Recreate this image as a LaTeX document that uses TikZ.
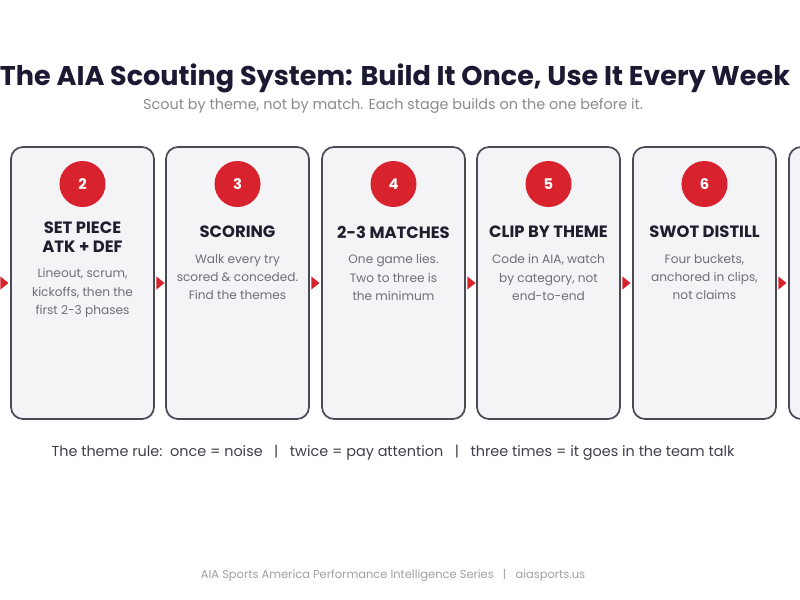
\documentclass[tikz,border=0pt]{standalone}
\usepackage{fontspec}
\setmainfont{Poppins}
\usetikzlibrary{calc}
\definecolor{titlecol}{HTML}{1C1A33}
\definecolor{headcol}{HTML}{1E1E2C}
\definecolor{bodycol}{HTML}{6E6E76}
\definecolor{subcol}{HTML}{8A8A92}
\definecolor{footcol}{HTML}{A0A0A6}
\definecolor{boxfill}{HTML}{F4F4F7}
\definecolor{boxline}{HTML}{4A4A55}
\definecolor{aiared}{HTML}{D8232F}
\tikzset{
  stagebox/.style={draw=boxline, line width=1.3pt, fill=boxfill, rounded corners=9pt,
    minimum width=107.25pt, minimum height=204pt, inner sep=0pt},
  numcirc/.style={circle, fill=aiared, minimum size=34.5pt, inner sep=0pt,
    text=white, font=\fontsize{11}{13}\selectfont\bfseries},
  headtxt/.style={text=headcol, font=\fontsize{12.3}{13.8}\selectfont\bfseries, align=center, anchor=center},
  bodytxt/.style={text=bodycol, font=\fontsize{9.1}{13.6}\selectfont, align=center, anchor=north},
  flowtip/.style={fill=aiared}
}
\begin{document}
\begin{tikzpicture}[x=0.75pt,y=-0.75pt]
\clip (0,0) rectangle (800,600);
\fill[white] (0,0) rectangle (800,600);

\node[text=titlecol, font=\fontsize{20.3}{24}\selectfont\bfseries] (title) at (395,78) {The AIA Scouting System: Build It Once, Use It Every Week};
\node[text=subcol, font=\fontsize{10.8}{12}\selectfont] (sub) at (393,106) {Scout by theme, not by match. Each stage builds on the one before it.};

% boxes
\node[stagebox] (b1) at (-73.5,283) {};
\node[stagebox] (b2) at (82.5,283) {};
\node[stagebox] (b3) at (237.5,283) {};
\node[stagebox] (b4) at (393.5,283) {};
\node[stagebox] (b5) at (548.5,283) {};
\node[stagebox] (b6) at (704.5,283) {};
\node[stagebox] (b7) at (860.5,283) {};

% arrows between boxes
\foreach \a in {b1,b2,b3,b4,b5,b6}{
  \fill[flowtip] ([xshift=1.2pt]\a.east) -- ++(0,-6.5) -- ++(8,6.5) -- ++(-8,6.5) -- cycle;
}

% circles
\node[numcirc] (n2) at (82.5,184) {2};
\node[numcirc] (n3) at (237.5,184) {3};
\node[numcirc] (n4) at (393.5,184) {4};
\node[numcirc] (n5) at (548.5,184) {5};
\node[numcirc] (n6) at (704.5,184) {6};

% headings
\node[headtxt] (h2) at (82.5,237) {SET PIECE\\ATK + DEF};
\node[headtxt] (h3) at (237.5,232) {SCORING};
\node[headtxt] (h4) at (393.5,232) {2-3 MATCHES};
\node[headtxt] (h5) at (548.5,232) {CLIP BY THEME};
\node[headtxt] (h6) at (704.5,232) {SWOT DISTILL};

% bodies
\node[bodytxt] (t2) at (82.5,264) {Lineout, scrum,\\kickoffs, then the\\first 2-3 phases};
\node[bodytxt] (t3) at (237.5,250) {Walk every try\\scored \& conceded.\\Find the themes};
\node[bodytxt] (t4) at (393.5,250) {One game lies.\\Two to three is\\the minimum};
\node[bodytxt] (t5) at (548.5,250) {Code in AIA, watch\\by category, not\\end-to-end};
\node[bodytxt] (t6) at (704.5,250) {Four buckets,\\anchored in clips,\\not claims};

\node[text=headcol!85, font=\fontsize{10.8}{13}\selectfont] (rule) at (393,453) {The theme rule:\ \ once = noise\ \ \ |\ \ \ twice = pay attention\ \ \ |\ \ \ three times = it goes in the team talk};
\node[text=footcol, font=\fontsize{8.6}{10}\selectfont] (foot) at (393,575) {AIA Sports America Performance Intelligence Series\ \ \ |\ \ \ aiasports.us};
\end{tikzpicture}
\end{document}
